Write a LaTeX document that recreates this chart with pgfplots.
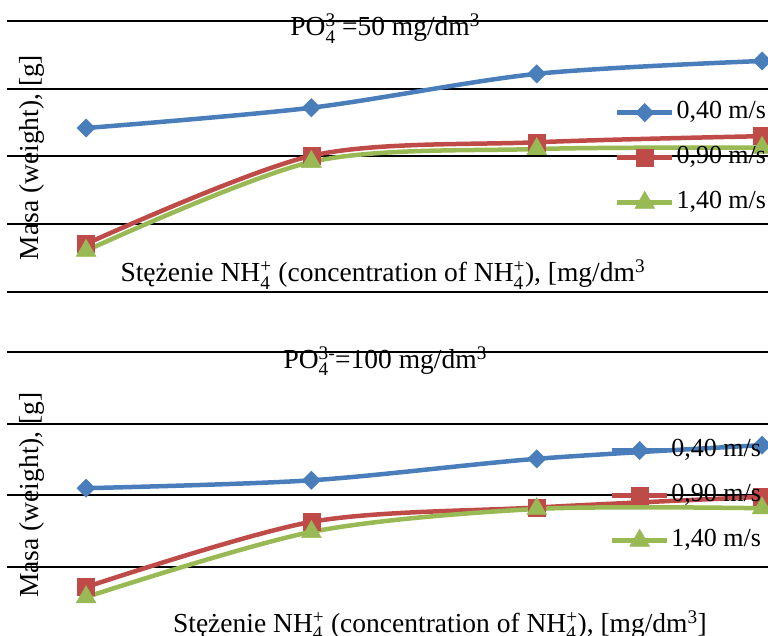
\documentclass[border=0pt]{standalone}
\usepackage{pgfplots}
\pgfplotsset{compat=1.18}
\usepackage{amsmath}
\usepackage{fontspec}
\setmainfont{Liberation Serif}

\definecolor{sblue}{HTML}{4A7EBB}
\definecolor{sred}{HTML}{BE4B48}
\definecolor{sgreen}{HTML}{98B954}
% stacked sub/superscript, as in NH4+
\newcommand{\ion}[2]{$_{\text{#1}}^{\text{#2}}$}
\newcommand{\labfont}{\fontsize{27.5}{32}\selectfont}

\pgfplotsset{
  panel/.style={
    scale only axis, width=783pt,
    xmin=0.649, xmax=4.124, ymin=0, ymax=4,
    ytick={0,1,2,3,4}, yticklabels={}, xtick=\empty,
    ymajorgrids, major grid style={black, line width=2pt},
    axis line style={draw=none}, major tick length=0pt,
    clip=false,
    legend style={draw=none, fill=none, inner sep=0pt, outer sep=0pt,
      anchor=north west, column sep=2pt, row sep=21pt,
      font=\fontsize{26}{30}\selectfont,
      nodes={inner sep=0pt, text height=18pt, text depth=6pt}},
    legend cell align=left,
    legend image code/.code={\draw[mark repeat=2,mark phase=2,##1]
      plot coordinates {(0pt,0pt)(27.5pt,0pt)(55pt,0pt)};},
  },
  s1/.style={sblue, line width=4.5pt, smooth, mark=square*, mark size=6.5pt,
    mark options={rotate=45, line width=0.4pt, solid}},
  s2/.style={sred, line width=4.5pt, smooth, mark=square*, mark size=8.5pt,
    mark options={line width=0.4pt, solid}},
  s3/.style={sgreen, line width=4.5pt, smooth, mark=triangle*, mark size=11.5pt,
    mark options={line width=0.4pt, solid}},
}

\begin{document}
\begin{tikzpicture}[x=1pt,y=1pt]
\clip (0,0) rectangle (768,636);

% PO4 = 50 mg/dm3
\begin{axis}[panel, at={(7pt,344pt)}, anchor=south west, height=271pt,
  title={PO\ion{4}{3-}=50 mg/dm\textsuperscript{3}},
  every axis title/.style={at={(axis description cs:0.483,0.945)}, anchor=base, font=\labfont},
  xlabel={Stężenie NH\ion{4}{+} (concentration of NH\ion{4}{+}), [mg/dm\textsuperscript{3}},
  every axis x label/.style={at={(axis description cs:0.480,0.037)}, anchor=base, font=\labfont},
  ylabel={Masa (weight), [g]},
  every axis y label/.style={at={(axis description cs:0.032,0.496)}, rotate=90, anchor=center, font=\labfont},
  legend style={at={(axis description cs:0.7765,0.706)}}]
\addplot[s1] coordinates {(1,2.42) (2,2.72) (3,3.22) (4,3.41)};
\addlegendentry{0,40 m/s}
\addplot[s2] coordinates {(1,0.71) (2,2.01) (3,2.21) (4,2.30)};
\addlegendentry{0,90 m/s}
\addplot[s3] coordinates {(1,0.61) (2,1.92) (3,2.11) (4,2.13)};
\addlegendentry{1,40 m/s}
\end{axis}

% PO4 = 100 mg/dm3
\begin{axis}[panel, at={(7pt,-2.7pt)}, anchor=south west, height=286.7pt,
  title={PO\ion{4}{3-}=100 mg/dm\textsuperscript{3}},
  every axis title/.style={at={(axis description cs:0.483,0.944)}, anchor=base, font=\labfont},
  xlabel={Stężenie NH\ion{4}{+} (concentration of NH\ion{4}{+}), [mg/dm\textsuperscript{3}]},
  every axis x label/.style={at={(axis description cs:0.553,0.023)}, anchor=base, font=\labfont},
  ylabel={Masa (weight), [g]},
  every axis y label/.style={at={(axis description cs:0.032,0.501)}, rotate=90, anchor=center, font=\labfont},
  legend style={at={(axis description cs:0.770,0.698)}}]
\addplot[s1] coordinates {(1,2.10) (2,2.21) (3,2.51) (4,2.70)};
\addlegendentry{0,40 m/s}
\addplot[s2] coordinates {(1,0.72) (2,1.63) (3,1.83) (4,1.98)};
\addlegendentry{0,90 m/s}
\addplot[s3] coordinates {(1,0.58) (2,1.49) (3,1.81) (4,1.82)};
\addlegendentry{1,40 m/s}
\end{axis}
\end{tikzpicture}
\end{document}
